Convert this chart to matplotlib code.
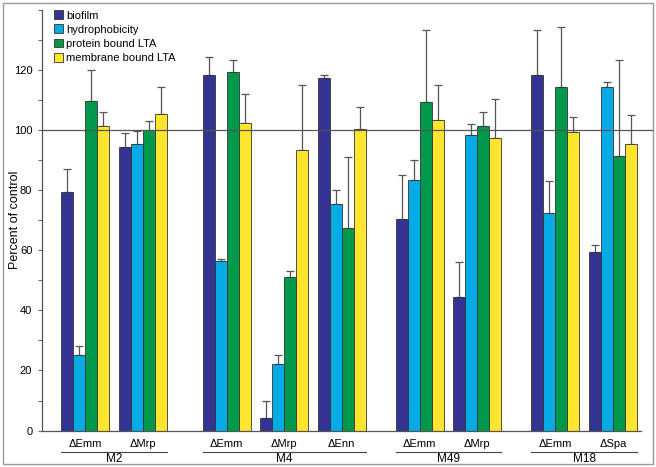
import matplotlib
matplotlib.use('Agg')
import matplotlib.pyplot as plt
from matplotlib.patches import Rectangle
import matplotlib.transforms as mtransforms

plt.rcParams['font.family'] = ['Liberation Sans', 'DejaVu Sans']

strains = ['M2', 'M4', 'M49', 'M18']
mutants = [['\u0394Emm', '\u0394Mrp'],
           ['\u0394Emm', '\u0394Mrp', '\u0394Enn'],
           ['\u0394Emm', '\u0394Mrp'],
           ['\u0394Emm', '\u0394Spa']]
series = ['biofilm', 'hydrophobicity', 'protein bound LTA', 'membrane bound LTA']

# values per mutant group (9 groups, in plotting order)
biofilm = [79.3, 94.4, 118.3, 4.2, 117.4, 70.3, 44.5, 118.3, 59.5]
hydrophobicity = [25.3, 95.4, 56.3, 22.2, 75.4, 83.4, 98.4, 72.4, 114.4]
protein_lta = [109.7, 100.2, 119.3, 51.2, 67.4, 109.3, 101.3, 114.4, 91.4]
membrane_lta = [101.4, 105.4, 102.4, 93.3, 100.4, 103.3, 97.3, 99.4, 95.4]

# upper error (length above bar)
biofilm_err = [7.7, 4.6, 5.9, 5.8, 1.0, 14.9, 11.5, 15.0, 2.3]
hydrophobicity_err = [2.7, 4.4, 0.7, 2.8, 4.6, 6.6, 3.8, 10.8, 1.6]
protein_lta_err = [10.3, 2.8, 3.9, 1.8, 23.8, 24.0, 4.7, 19.8, 31.9]
membrane_lta_err = [4.6, 9.0, 9.6, 21.7, 7.2, 11.7, 13.0, 4.9, 9.8]

colors = ['#333391', '#06ABE6', '#00994C', '#FFE52E']
values = [biofilm, hydrophobicity, protein_lta, membrane_lta]
errors = [biofilm_err, hydrophobicity_err, protein_lta_err, membrane_lta_err]

# group centre positions
pitch = 4.8
strain_gap = [2.2, 1.7, 1.7]
centers = []
pos = 0.0
strain_spans = []
for i, muts in enumerate(mutants):
    first = pos
    for j in range(len(muts)):
        centers.append(pos)
        if j < len(muts) - 1:
            pos += pitch
    strain_spans.append((first, pos))
    if i < len(strain_gap):
        pos += pitch + strain_gap[i]

fig = plt.figure(figsize=(6.56, 4.67), dpi=100)
ax = fig.add_axes([0.064, 0.078, 0.913, 0.9006])

offsets = [-1.5, -0.5, 0.5, 1.5]
for k in range(4):
    xs = [c + offsets[k] for c in centers]
    ax.bar(xs, values[k], width=1.0, color=colors[k], edgecolor='#333333',
           linewidth=0.6, label=series[k], zorder=2)
    ax.errorbar(xs, values[k], yerr=[[0] * len(xs), errors[k]], fmt='none',
                ecolor='#555555', elinewidth=0.9, capsize=2.8, capthick=0.9,
                zorder=1)

ax.set_xlim(-3.58, 46.33)
ax.set_ylim(0, 140)
ax.set_yticks(range(0, 121, 20))
ax.set_yticks(range(10, 141, 10), minor=True)
ax.tick_params(axis='y', which='both', direction='out', length=3, width=0.8,
               color='#666666', labelsize=8, pad=4)
ax.tick_params(axis='x', bottom=False, labelbottom=False)
for s in ['top', 'right']:
    ax.spines[s].set_visible(False)
for s in ['left', 'bottom']:
    ax.spines[s].set_color('#555555')
    ax.spines[s].set_linewidth(0.9)

ax.axhline(100, xmin=0, xmax=1.02, color='#555555', lw=0.9, clip_on=False,
           zorder=3)

ax.set_ylabel('Percent of control', fontsize=9, va='center')
ax.yaxis.set_label_coords(-0.045, 0.5)

trans = mtransforms.blended_transform_factory(ax.transData, ax.transAxes)
idx = 0
for i, muts in enumerate(mutants):
    for m in muts:
        ax.text(centers[idx], -0.031, m, transform=trans, ha='center',
                va='center', fontsize=8)
        idx += 1
    a, b = strain_spans[i]
    ax.plot([a - 2.0, b + 2.0], [-0.05, -0.05], transform=trans,
            color='#444444', lw=0.8, clip_on=False)
    ax.text((a + b) / 2, -0.068, strains[i], transform=trans, ha='center',
            va='center', fontsize=8.5)

ax.legend(loc='upper left', bbox_to_anchor=(0.012, 1.01), frameon=False,
          fontsize=8, handlelength=0.85, handleheight=0.85,
          handletextpad=0.3, labelspacing=0.35, borderaxespad=0.0)

fig.patches.append(Rectangle((0.004, 0.006), 0.992, 0.988,
                             transform=fig.transFigure, fill=False,
                             edgecolor='#999999', lw=1.0))

fig.savefig('out.png', dpi=100)
